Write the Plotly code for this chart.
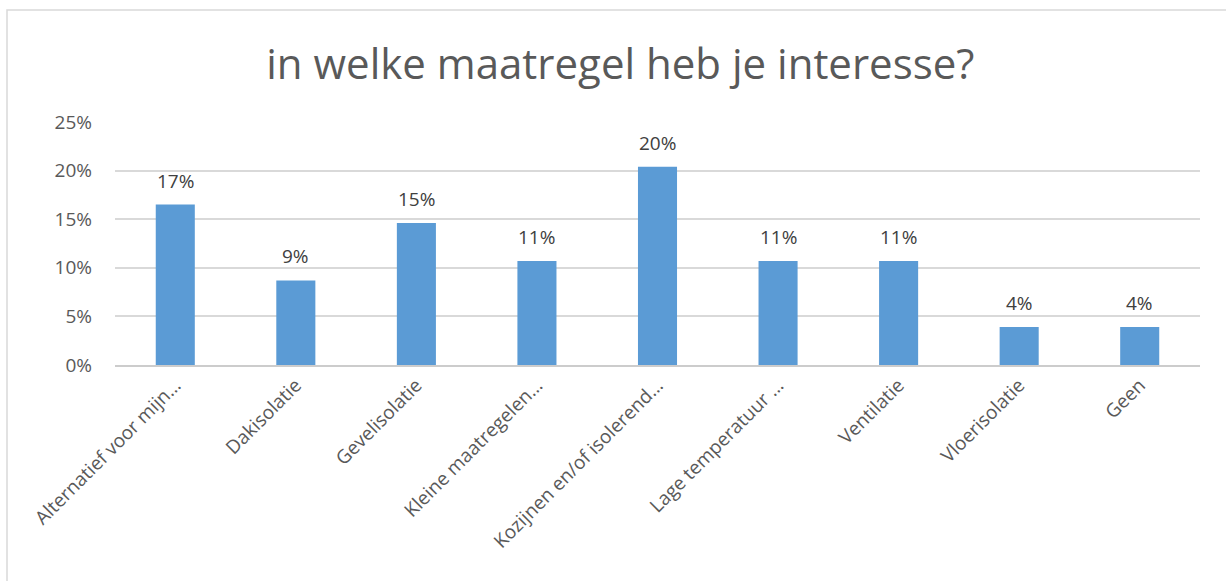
import plotly.graph_objects as go

categories = ["Alternatief voor mijn…", "Dakisolatie", "Gevelisolatie", "Kleine maatregelen…",
              "Kozijnen en/of isolerend…", "Lage temperatuur …", "Ventilatie", "Vloerisolatie", "Geen"]
values = [0.165, 0.087, 0.146, 0.107, 0.204, 0.107, 0.107, 0.039, 0.039]
labels = ["17%", "9%", "15%", "11%", "20%", "11%", "11%", "4%", "4%"]
y_ticks = [0, 0.05, 0.10, 0.15, 0.20, 0.25]
y_ticklabels = ["0%", "5%", "10%", "15%", "20%", "25%"]

FONT = "Open Sans"
TXT = "#595959"

W, H = 1226, 581
L, R, T, B = 115, 26, 122, 216
PW = W - L - R
PH = H - T - B

fig = go.Figure(go.Bar(
    x=categories, y=values,
    marker=dict(color="#5b9bd5", line=dict(width=0)),
    hoverinfo="x+y",
))

annotations = [
    dict(x=c, y=v, text=t, xref="x", yref="y", showarrow=False,
         yanchor="bottom", yshift=9,
         font=dict(family=FONT, size=19, color="#404040"))
    for c, v, t in zip(categories, values, labels)
]

fig.update_layout(
    width=W, height=H,
    margin=dict(l=L, r=R, t=T, b=B),
    paper_bgcolor="white", plot_bgcolor="white",
    bargap=0.676,
    showlegend=False,
    annotations=annotations,
    title=dict(text="in welke maatregel heb je interesse?", x=0.506, xanchor="center",
               y=1 - 64 / H, yanchor="middle", yref="container",
               font=dict(family=FONT, size=42, color=TXT)),
    xaxis=dict(tickangle=-45, tickfont=dict(family=FONT, size=19, color=TXT),
               showgrid=False, showline=True, linecolor="#cccccc", linewidth=1.5,
               ticks=""),
    yaxis=dict(range=[0, 0.25], tickvals=y_ticks, ticktext=y_ticklabels,
               tickfont=dict(family=FONT, size=19, color=TXT),
               showgrid=True, gridcolor="#d9d9d9", gridwidth=1.5,
               zeroline=False, showline=False, ticks="", ticklabelstandoff=22),
    shapes=[dict(type="rect", xref="paper", yref="paper",
                 x0=(7 - L) / PW, x1=1.2, y0=-1.5, y1=(T + PH - 10) / PH,
                 line=dict(color="#d9d9d9", width=1.5), layer="below")],
)

fig.write_html("out.html", config={"displayModeBar": False},
               post_script="document.body.style.margin='0';document.body.style.overflow='hidden';")
